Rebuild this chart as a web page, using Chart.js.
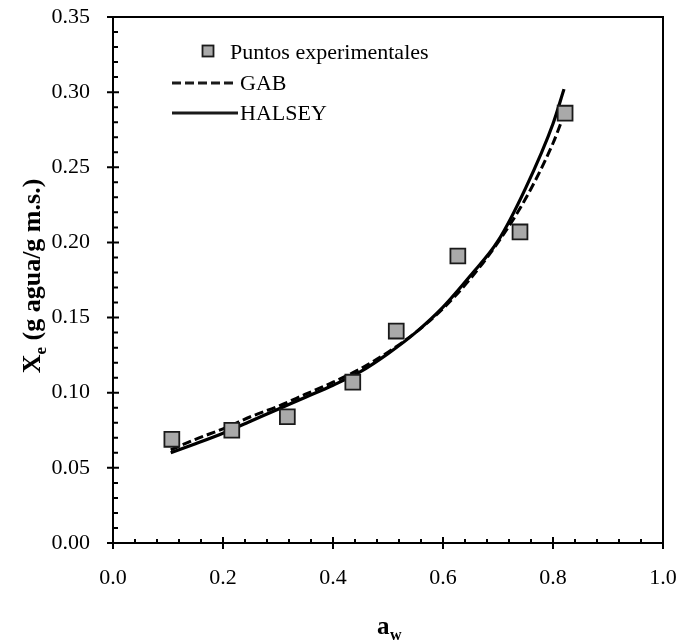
<!DOCTYPE html>
<html>
<head>
<meta charset="utf-8">
<script src="https://cdn.jsdelivr.net/npm/chart.js@4.4.0/dist/chart.umd.min.js"></script>
<style>
  html, body { margin: 0; padding: 0; background: #fff; }
  #wrap { width: 679px; height: 643px; position: relative; }
</style>
</head>
<body>
<div id="wrap"><canvas id="isoChart"></canvas></div>
<script>
// Datos
const awExp = [0.107, 0.216, 0.317, 0.436, 0.515, 0.627, 0.740, 0.822];
const xeExp = [0.069, 0.075, 0.084, 0.107, 0.141, 0.191, 0.207, 0.286];

const awGab = [0.105, 0.15, 0.20, 0.25, 0.30, 0.35, 0.40, 0.45, 0.50, 0.55, 0.60, 0.65, 0.70, 0.75, 0.80, 0.82];
const xeGab = [0.062, 0.069, 0.076, 0.084, 0.091, 0.099, 0.107, 0.116, 0.127, 0.140, 0.156, 0.176, 0.200, 0.229, 0.266, 0.285];

const awHalsey = [0.105, 0.15, 0.20, 0.25, 0.30, 0.35, 0.40, 0.45, 0.50, 0.55, 0.60, 0.65, 0.70, 0.75, 0.80, 0.82];
const xeHalsey = [0.060, 0.066, 0.073, 0.081, 0.089, 0.097, 0.105, 0.114, 0.126, 0.140, 0.157, 0.178, 0.201, 0.236, 0.279, 0.302];

const xTicks = [0.0, 0.2, 0.4, 0.6, 0.8, 1.0];
const yTicks = [0.00, 0.05, 0.10, 0.15, 0.20, 0.25, 0.30, 0.35];

const legendLabels = ['Puntos experimentales', 'GAB', 'HALSEY'];

const toPoints = (xs, ys) => xs.map((v, i) => ({ x: v, y: ys[i] }));

function drawMarker(ctx, x, y, s) {
  ctx.fillStyle = '#a9a9a9';
  ctx.strokeStyle = '#1a1a1a';
  ctx.lineWidth = 1.8;
  ctx.fillRect(x - s / 2, y - s / 2, s, s);
  ctx.strokeRect(x - s / 2, y - s / 2, s, s);
}

// Marco, marcas de ejes, leyenda y títulos
const frame = {
  id: 'frame',
  afterDraw(chart) {
    const { ctx, chartArea: a, scales: { x, y } } = chart;
    ctx.save();
    ctx.strokeStyle = '#000';
    ctx.lineWidth = 2;
    ctx.strokeRect(a.left, a.top, a.right - a.left, a.bottom - a.top);

    ctx.beginPath();
    for (let i = 0; i <= 25; i++) {
      const px = x.getPixelForValue(i * 0.04);
      if (i % 5 === 0) { ctx.moveTo(px, a.bottom - 6); ctx.lineTo(px, a.bottom + 6); }
      else { ctx.moveTo(px, a.bottom - 4); ctx.lineTo(px, a.bottom + 1); }
    }
    for (let i = 0; i <= 35; i++) {
      const py = y.getPixelForValue(i * 0.01);
      if (i % 5 === 0) { ctx.moveTo(a.left - 6, py); ctx.lineTo(a.left + 6, py); }
      else { ctx.moveTo(a.left - 1, py); ctx.lineTo(a.left + 5, py); }
    }
    ctx.stroke();

    // leyenda
    ctx.fillStyle = '#000';
    ctx.font = '22px "Liberation Serif"';
    ctx.textBaseline = 'middle';
    drawMarker(ctx, 208, 51, 11);
    ctx.fillStyle = '#000';
    ctx.fillText(legendLabels[0], 230, 53);

    ctx.lineWidth = 3;
    ctx.setLineDash([9, 4]);
    ctx.beginPath(); ctx.moveTo(172, 83); ctx.lineTo(236, 83); ctx.stroke();
    ctx.setLineDash([]);
    ctx.fillText(legendLabels[1], 240, 84);

    ctx.beginPath(); ctx.moveTo(172, 113); ctx.lineTo(238, 113); ctx.stroke();
    ctx.fillText(legendLabels[2], 240, 114);

    // título eje x
    const cx = (a.left + a.right) / 2;
    ctx.font = 'bold 25px "Liberation Serif"';
    ctx.textBaseline = 'alphabetic';
    ctx.fillText('a', cx - 11, 634);
    ctx.font = 'bold 16px "Liberation Serif"';
    ctx.fillText('w', cx + 2, 640);

    // título eje y
    ctx.translate(40, 276);
    ctx.rotate(-Math.PI / 2);
    ctx.font = 'bold 26px "Liberation Serif"';
    const main = ' (g agua/g m.s.)';
    const wX = ctx.measureText('X').width;
    ctx.font = 'bold 17px "Liberation Serif"';
    const wE = ctx.measureText('e').width;
    ctx.font = 'bold 26px "Liberation Serif"';
    const wM = ctx.measureText(main).width;
    let sx = -(wX + wE + wM) / 2;
    ctx.fillText('X', sx, 0);
    ctx.font = 'bold 17px "Liberation Serif"';
    ctx.fillText('e', sx + wX, 6);
    ctx.font = 'bold 26px "Liberation Serif"';
    ctx.fillText(main, sx + wX + wE, 0);
    ctx.restore();
  }
};

new Chart(document.getElementById('isoChart'), {
  type: 'scatter',
  data: {
    datasets: [
      {
        label: legendLabels[0],
        data: toPoints(awExp, xeExp),
        pointStyle: 'rect',
        pointRadius: 10.5,
        pointBackgroundColor: '#a9a9a9',
        pointBorderColor: '#1a1a1a',
        pointBorderWidth: 1.8,
        showLine: false
      },
      {
        label: legendLabels[1],
        data: toPoints(awGab, xeGab),
        showLine: true,
        borderColor: '#000',
        borderWidth: 3,
        borderDash: [9, 4],
        pointRadius: 0,
        cubicInterpolationMode: 'monotone'
      },
      {
        label: legendLabels[2],
        data: toPoints(awHalsey, xeHalsey),
        showLine: true,
        borderColor: '#000',
        borderWidth: 3.2,
        pointRadius: 0,
        cubicInterpolationMode: 'monotone'
      }
    ]
  },
  options: {
    responsive: true,
    maintainAspectRatio: false,
    animation: false,
    layout: { padding: { left: 0, right: 16, top: 17, bottom: 0 } },
    plugins: { legend: { display: false }, tooltip: { enabled: false } },
    scales: {
      x: {
        type: 'linear',
        min: 0, max: 1,
        afterBuildTicks: s => { s.ticks = xTicks.map(v => ({ value: v })); },
        afterFit: s => { s.height = 100; s.paddingLeft = 0; s.paddingRight = 0; },
        grid: { display: false, drawTicks: false },
        border: { display: false },
        ticks: {
          padding: 22,
          color: '#000',
          font: { family: 'Liberation Serif', size: 22 },
          callback: v => v.toFixed(1)
        }
      },
      y: {
        type: 'linear',
        min: 0, max: 0.35,
        afterBuildTicks: s => { s.ticks = yTicks.map(v => ({ value: v })); },
        afterFit: s => { s.width = 113; s.paddingTop = 0; s.paddingBottom = 0; },
        grid: { display: false, drawTicks: false },
        border: { display: false },
        ticks: {
          padding: 23,
          color: '#000',
          font: { family: 'Liberation Serif', size: 22 },
          callback: v => v.toFixed(2)
        }
      }
    }
  },
  plugins: [frame]
});
</script>
</body>
</html>
